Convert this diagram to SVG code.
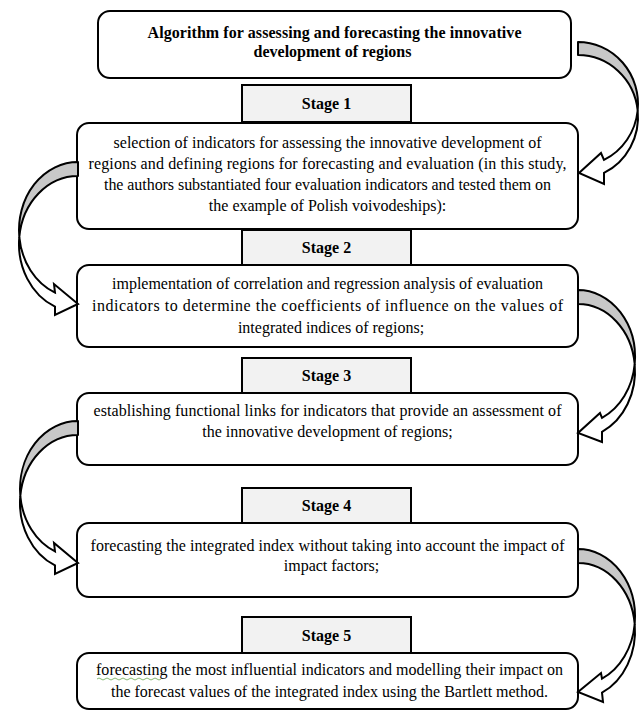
<svg xmlns="http://www.w3.org/2000/svg" width="641" height="710" viewBox="0 0 641 710">
<style>
.box{fill:#fff;stroke:#000;stroke-width:2}
.stage{fill:#f2f2f2;stroke:#000;stroke-width:2}
.t{font-family:"Liberation Serif","Times New Roman","DejaVu Serif",serif;font-size:16px;text-anchor:middle;fill:#000}
.b{font-weight:bold}
.back{fill:#c8c8c8;stroke:#000;stroke-width:2;stroke-linejoin:round}
.front{fill:#fff;stroke:#000;stroke-width:2;stroke-linejoin:miter}
</style>
<rect width="641" height="710" fill="#fff"/>
<g id="title">
<rect class="box" x="98" y="11" width="473" height="67" rx="12"/>
<text class="t b" x="334.5" y="38" textLength="374" lengthAdjust="spacing">Algorithm for assessing and forecasting the innovative</text>
<text class="t b" x="332.5" y="57">development of regions</text>
</g>
<g id="stage1">
<rect class="stage" x="242" y="85" width="169" height="37"/>
<text class="t b" x="326.5" y="108.5">Stage 1</text>
</g>
<g id="step1">
<rect class="box" x="77" y="123" width="501" height="106" rx="12"/>
<text class="t" x="327.5" y="148" textLength="428" lengthAdjust="spacing">selection of indicators for assessing the innovative development of</text>
<text class="t" x="327.5" y="169" textLength="478" lengthAdjust="spacing">regions and defining regions for forecasting and evaluation (in this study,</text>
<text class="t" x="327.5" y="190" textLength="447" lengthAdjust="spacing">the authors substantiated four evaluation indicators and tested them on</text>
<text class="t" x="327.5" y="211">the example of Polish voivodeships):</text>
</g>
<g id="stage2">
<rect class="stage" x="242" y="230" width="169" height="35"/>
<text class="t b" x="326.5" y="252.5">Stage 2</text>
</g>
<g id="step2">
<rect class="box" x="77" y="265" width="501" height="82" rx="12"/>
<text class="t" x="327.5" y="289" textLength="431" lengthAdjust="spacing">implementation of correlation and regression analysis of evaluation</text>
<text class="t" x="327.5" y="311" textLength="471" lengthAdjust="spacing">indicators to determine the coefficients of influence on the values of</text>
<text class="t" x="331" y="333">integrated indices of regions;</text>
</g>
<g id="stage3">
<rect class="stage" x="242" y="358" width="169" height="35"/>
<text class="t b" x="326.5" y="381">Stage 3</text>
</g>
<g id="step3">
<rect class="box" x="77" y="393" width="501" height="72" rx="12"/>
<text class="t" x="327.5" y="416" textLength="468" lengthAdjust="spacing">establishing functional links for indicators that provide an assessment of</text>
<text class="t" x="327.5" y="437">the innovative development of regions;</text>
</g>
<g id="stage4">
<rect class="stage" x="242" y="488" width="169" height="35"/>
<text class="t b" x="326.5" y="511">Stage 4</text>
</g>
<g id="step4">
<rect class="box" x="77" y="523" width="501" height="74" rx="12"/>
<text class="t" x="327.5" y="551" textLength="474" lengthAdjust="spacing">forecasting the integrated index without taking into account the impact of</text>
<text class="t" x="331.5" y="571">impact factors;</text>
</g>
<g id="stage5">
<rect class="stage" x="242" y="617" width="169" height="36"/>
<text class="t b" x="326.5" y="640.5">Stage 5</text>
</g>
<g id="step5">
<rect class="box" x="77" y="653" width="501" height="56" rx="12"/>
<text class="t" x="329.5" y="675" textLength="467" lengthAdjust="spacing">forecasting the most influential indicators and modelling their impact on</text>
<text class="t" x="329.5" y="697" textLength="437" lengthAdjust="spacing">the forecast values of the integrated index using the Bartlett method.</text>
<path d="M97,679 q2,-2 4,0 t4,0 t4,0 t4,0 t4,0 t4,0 t4,0 t4,0 t4,0 t4,0 t4,0 t4,0 t4,0 t4,0 t4,0 t4,0" fill="none" stroke="#6aa84f" stroke-width="0.8"/>
</g>
<g id="connectors">
<g id="arrow-title-step1">
<path class="back" d="M578,42 A60,62 0 0 1 637.67,110.5 A60,62 0 0 0 578,55 Z"/>
<path class="front" d="M637.67,110.5 A60,62 0 0 1 604,172.88 L604,184 L579,173 L601,153 L604,159.88 A60,62 0 0 0 637.67,110.5 Z"/>
</g>
<g id="arrow-step1-step2">
<path class="back" d="M78,162 A59,68 0 0 0 19.31,237 A59,68 0 0 1 78,176 Z"/>
<path class="front" d="M19.31,237 A59,68 0 0 0 55,306.62 L55,315 L78,304 L54,284 L55,292.62 A59,68 0 0 1 19.31,237 Z"/>
</g>
<g id="arrow-step2-step3">
<path class="back" d="M578,290 A57,67 0 0 1 634.69,364 A57,67 0 0 0 578,304 Z"/>
<path class="front" d="M634.69,364 A57,67 0 0 1 602,431.77 L602,442 L578,433 L600,413 L602,417.77 A57,67 0 0 0 634.69,364 Z"/>
</g>
<g id="arrow-step3-step4">
<path class="back" d="M78,421 A58,68 0 0 0 20.31,496 A58,68 0 0 1 78,435 Z"/>
<path class="front" d="M20.31,496 A58,68 0 0 0 55,565.42 L55,574 L78,563 L54,543 L55,551.42 A58,68 0 0 1 20.31,496 Z"/>
</g>
<g id="arrow-step4-step5">
<path class="back" d="M578,549 A57,68 0 0 1 634.7,624 A57,68 0 0 0 578,563 Z"/>
<path class="front" d="M634.7,624 A57,68 0 0 1 602,692.68 L603,702 L578,692 L601,673 L602,678.68 A57,68 0 0 0 634.7,624 Z"/>
</g>
</g>
</svg>
